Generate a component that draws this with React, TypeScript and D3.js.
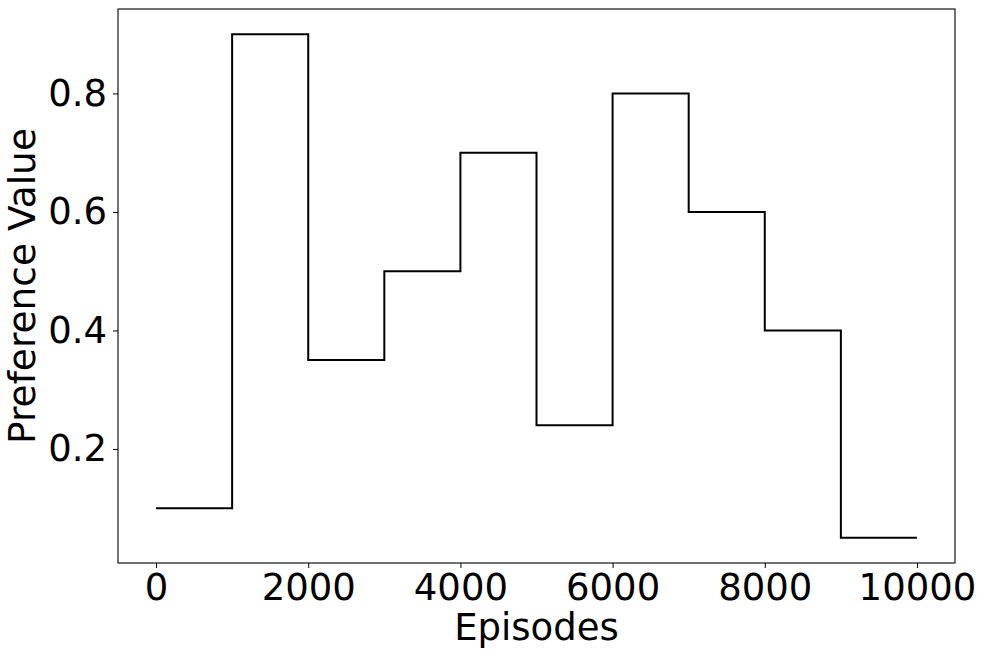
import React, { useRef, useEffect } from "react";
import * as d3 from "d3";

// step chart data (value holds from each episode mark until the next)
const episodes = [0, 1000, 2000, 3000, 4000, 5000, 6000, 7000, 8000, 9000, 10000];
const preference = [0.1, 0.9, 0.35, 0.5, 0.7, 0.24, 0.8, 0.6, 0.4, 0.05, 0.05];
const xTicks = [0, 2000, 4000, 6000, 8000, 10000];
const yTicks = [0.2, 0.4, 0.6, 0.8];

const W = 986;
const H = 658;

const App = () => {
  const ref = useRef<SVGSVGElement | null>(null);

  useEffect(() => {
    if (!ref.current) return;
    const svg = d3.select(ref.current);
    svg.selectAll("*").remove();

    const margin = { top: 9, right: 31, bottom: 95, left: 118 };
    const width = W - margin.left - margin.right;
    const height = H - margin.top - margin.bottom;
    const font = "DejaVu Sans, sans-serif";

    const xMin = d3.min(episodes)!;
    const xMax = d3.max(episodes)!;
    const xPad = (xMax - xMin) * 0.05;
    const yMin = d3.min(preference)!;
    const yMax = d3.max(preference)!;
    const yPad = (yMax - yMin) * 0.05;

    const x = d3.scaleLinear().domain([xMin - xPad, xMax + xPad]).range([0, width]);
    const y = d3.scaleLinear().domain([yMin - yPad, yMax + yPad]).range([height, 0]);

    const chart = svg
      .append("g")
      .attr("transform", `translate(${margin.left},${margin.top})`);

    const pts = episodes.map((e, i) => [e, preference[i]] as [number, number]);
    const line = d3
      .line<[number, number]>()
      .x((d) => x(d[0]))
      .y((d) => y(d[1]))
      .curve(d3.curveStepAfter);

    chart
      .append("path")
      .attr("d", line(pts))
      .attr("fill", "none")
      .attr("stroke", "#000")
      .attr("stroke-width", 2);

    // x axis
    const xAxis = chart
      .append("g")
      .attr("transform", `translate(0,${height})`)
      .call(d3.axisBottom(x).tickValues(xTicks).tickSize(5).tickPadding(6).tickFormat(d3.format("d")));
    xAxis.select(".domain").remove();
    xAxis.selectAll("text").attr("font-size", 37).attr("font-family", font).attr("fill", "#000");
    xAxis.selectAll("line").attr("stroke", "#000");

    // y axis
    const yAxis = chart
      .append("g")
      .call(d3.axisLeft(y).tickValues(yTicks).tickSize(5).tickPadding(6).tickFormat(d3.format(".1f")));
    yAxis.select(".domain").remove();
    yAxis.selectAll("text").attr("font-size", 37).attr("font-family", font).attr("fill", "#000");
    yAxis.selectAll("line").attr("stroke", "#000");

    // frame
    chart
      .append("rect")
      .attr("width", width)
      .attr("height", height)
      .attr("fill", "none")
      .attr("stroke", "#000")
      .attr("stroke-width", 1.1);

    // axis labels
    svg
      .append("text")
      .attr("x", margin.left + width / 2)
      .attr("y", 640)
      .attr("text-anchor", "middle")
      .attr("font-size", 37)
      .attr("font-family", font)
      .text("Episodes");

    svg
      .append("text")
      .attr("transform", `translate(35,${margin.top + height / 2}) rotate(-90)`)
      .attr("text-anchor", "middle")
      .attr("font-size", 37.5)
      .attr("font-family", font)
      .text("Preference Value");
  }, []);

  return (
    <svg
      ref={ref}
      width={W}
      height={H}
      style={{ position: "absolute", left: 0, top: 0, background: "#fff" }}
    />
  );
};

export default App;
